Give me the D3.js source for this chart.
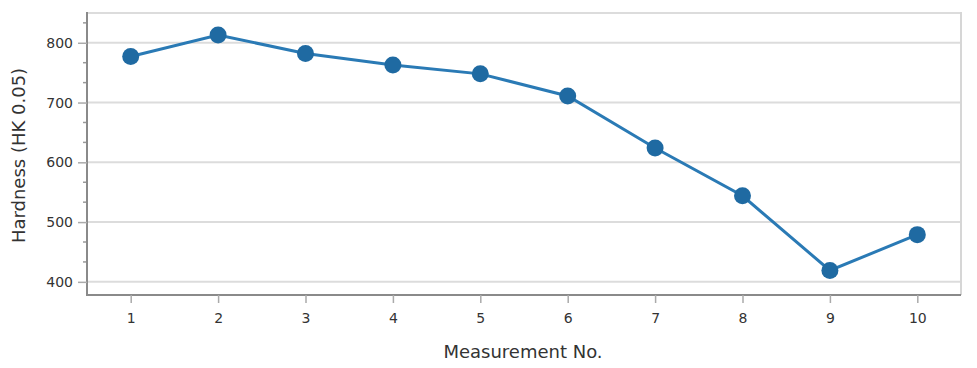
<!DOCTYPE html>
<html>
<head>
<meta charset="utf-8">
<script src="https://cdn.jsdelivr.net/npm/d3@7"></script>
<style>
  body { margin: 0; background: #fff; }
  text { font-family: "DejaVu Sans", Verdana, sans-serif; fill: #333; }
</style>
</head>
<body>
<div id="chart"></div>
<script>
var measurements = [1, 2, 3, 4, 5, 6, 7, 8, 9, 10];
var hardness = [777, 813, 782, 763, 748, 711, 624, 544, 419, 479];
var yTicks = [400, 500, 600, 700, 800];

var width = 977, height = 368;
var plotLeft = 87, plotRight = 961, plotTop = 12, plotBottom = 295;

var svg = d3.select("#chart").append("svg")
    .attr("width", width)
    .attr("height", height);

var x = d3.scalePoint()
    .domain(measurements)
    .range([plotLeft, plotRight])
    .padding(0.5);

var y = d3.scaleLinear()
    .domain([378, 851.5])
    .range([plotBottom, plotTop]);

// grid
var grid = svg.append("g").attr("class", "grid");
grid.selectAll("line.h")
    .data(yTicks)
    .enter().append("line")
    .attr("x1", plotLeft).attr("x2", plotRight)
    .attr("y1", function (d) { return y(d); })
    .attr("y2", function (d) { return y(d); })
    .attr("stroke", "#dcdcdc")
    .attr("stroke-width", 2);
// top and right border
grid.append("line")
    .attr("x1", plotLeft).attr("x2", plotRight).attr("y1", plotTop + 1).attr("y2", plotTop + 1)
    .attr("stroke", "#dcdcdc").attr("stroke-width", 2);
grid.append("line")
    .attr("x1", plotRight).attr("x2", plotRight).attr("y1", plotTop).attr("y2", plotBottom)
    .attr("stroke", "#d6d6d6").attr("stroke-width", 2);

// y minor ticks (every third of a major step)
var minor = d3.range(400 - 100 / 3, 851, 100 / 3).filter(function (v) {
    var r = ((v % 100) + 100) % 100;
    return r > 1 && r < 99 && y(v) >= plotTop && y(v) <= plotBottom;
});
svg.append("g").selectAll("line")
    .data(minor)
    .enter().append("line")
    .attr("x1", plotLeft - 4).attr("x2", plotLeft)
    .attr("y1", function (d) { return y(d); })
    .attr("y2", function (d) { return y(d); })
    .attr("stroke", "#999").attr("stroke-width", 1.5);

// y axis
var yAxis = svg.append("g")
    .attr("transform", "translate(" + plotLeft + ",0)")
    .call(d3.axisLeft(y).tickValues(yTicks).tickSize(9).tickPadding(5));
yAxis.select(".domain").attr("stroke", "#8a8a8a").attr("stroke-width", 2)
    .attr("d", "M0," + plotTop + "V" + (plotBottom + 1));
yAxis.selectAll(".tick line").attr("stroke", "#aaa").attr("stroke-width", 1.5);
yAxis.selectAll(".tick text").style("font-size", "14px").attr("fill", "#333");

// x axis
var xAxis = svg.append("g")
    .attr("transform", "translate(0," + plotBottom + ")")
    .call(d3.axisBottom(x).tickSize(8).tickPadding(10));
xAxis.select(".domain").attr("stroke", "#8a8a8a").attr("stroke-width", 2)
    .attr("d", "M" + (plotLeft - 1) + ",0H" + plotRight);
xAxis.selectAll(".tick line").attr("stroke", "#aaa").attr("stroke-width", 1.5);
xAxis.selectAll(".tick text").style("font-size", "14px").attr("fill", "#333");

// titles
svg.append("text")
    .attr("x", 523)
    .attr("y", 358)
    .attr("text-anchor", "middle")
    .style("font-size", "18px")
    .text("Measurement No.");

svg.append("text")
    .attr("transform", "translate(25," + ((plotTop + plotBottom) / 2 + 2) + ") rotate(-90)")
    .attr("text-anchor", "middle")
    .style("font-size", "18px")
    .text("Hardness (HK 0.05)");

// line + markers
var pts = measurements.map(function (m, i) { return [m, hardness[i]]; });
var line = d3.line()
    .x(function (d) { return x(d[0]); })
    .y(function (d) { return y(d[1]); });

svg.append("path")
    .datum(pts)
    .attr("d", line)
    .attr("fill", "none")
    .attr("stroke", "#2a7ab5")
    .attr("stroke-width", 3);

svg.append("g").selectAll("circle")
    .data(pts)
    .enter().append("circle")
    .attr("cx", function (d) { return x(d[0]); })
    .attr("cy", function (d) { return y(d[1]); })
    .attr("r", 8.5)
    .attr("fill", "#1f6aa2");
</script>
</body>
</html>
